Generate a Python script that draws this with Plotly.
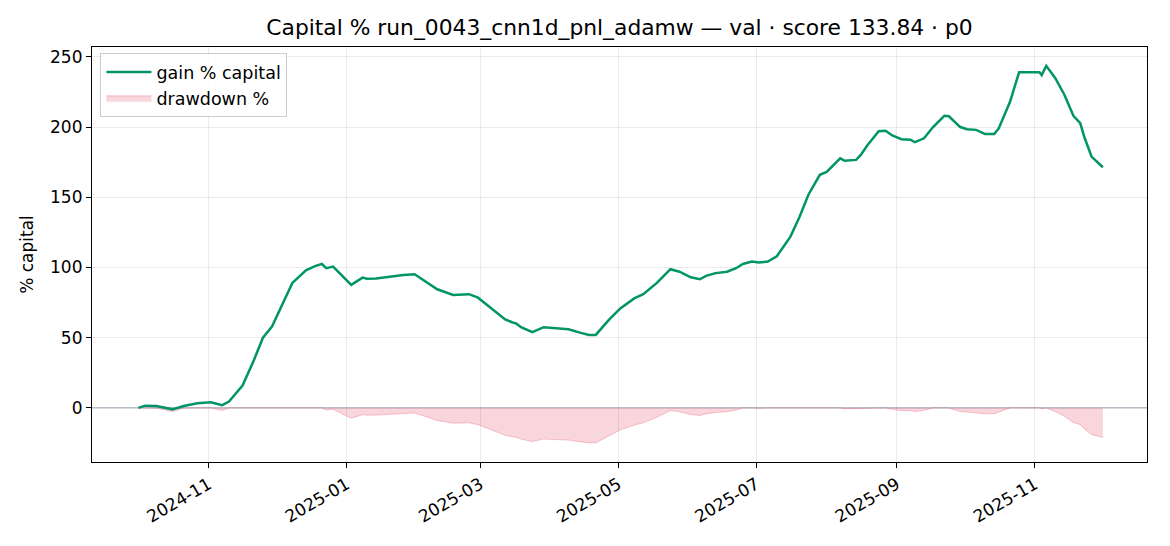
import plotly.graph_objects as go

# values
dates = [
    "2024-10-01", "2024-10-04", "2024-10-09", "2024-10-16", "2024-10-21", "2024-10-27",
    "2024-11-02", "2024-11-07", "2024-11-10", "2024-11-16", "2024-11-21", "2024-11-25",
    "2024-11-29", "2024-12-03", "2024-12-08", "2024-12-14", "2024-12-18", "2024-12-21",
    "2024-12-23", "2024-12-26", "2025-01-02", "2025-01-03", "2025-01-08", "2025-01-10",
    "2025-01-14", "2025-01-20", "2025-01-26", "2025-01-31", "2025-02-04", "2025-02-10",
    "2025-02-17", "2025-02-24", "2025-02-28", "2025-03-05", "2025-03-07", "2025-03-12",
    "2025-03-15", "2025-03-17", "2025-03-19", "2025-03-24", "2025-03-29", "2025-04-04",
    "2025-04-09", "2025-04-14", "2025-04-18", "2025-04-21", "2025-04-27", "2025-05-02",
    "2025-05-08", "2025-05-12", "2025-05-18", "2025-05-24", "2025-05-28", "2025-06-02",
    "2025-06-06", "2025-06-09", "2025-06-13", "2025-06-18", "2025-06-22", "2025-06-25",
    "2025-06-29", "2025-07-02", "2025-07-06", "2025-07-10", "2025-07-16", "2025-07-20",
    "2025-07-24", "2025-07-29", "2025-08-01", "2025-08-07", "2025-08-09", "2025-08-14",
    "2025-08-16", "2025-08-19", "2025-08-24", "2025-08-27", "2025-08-30", "2025-09-03",
    "2025-09-07", "2025-09-09", "2025-09-13", "2025-09-17", "2025-09-22", "2025-09-24",
    "2025-09-29", "2025-10-02", "2025-10-06", "2025-10-10", "2025-10-14", "2025-10-16",
    "2025-10-21", "2025-10-25", "2025-11-03", "2025-11-04", "2025-11-06", "2025-11-10",
    "2025-11-14", "2025-11-18", "2025-11-21", "2025-11-23", "2025-11-26", "2025-12-01",
]
gain_pct = [
    0, 1.6, 1.4, -1, 1.4, 3.3,
    4, 2, 4.5, 16, 34, 50,
    58, 72, 89, 98, 101, 102.5,
    99.5, 100.7, 89, 87.6, 92.8, 92,
    92.2, 93.6, 94.7, 95.2, 91, 84.5,
    80.5, 81, 78.5, 72, 70, 63,
    61, 60, 57.5, 54, 57.5, 56.8,
    56, 53.6, 52, 52, 63, 71,
    78, 81, 89, 98.8, 97, 93,
    91.6, 94.2, 96, 97, 99.5, 102.5,
    104.2, 103.5, 104.2, 108, 122, 136,
    152, 166, 168, 177.7, 176, 176.6,
    180, 187, 197, 197.3, 194, 191.3,
    191, 189.2, 192, 200, 208, 207.7,
    200, 198.5, 198, 195, 195, 199,
    218, 239, 239, 237, 243.6, 234.8,
    223, 208, 202.8, 192, 179, 171.4,
]
drawdown_pct = [
    0, 0, -0.2, -2.6, -0.2, 0,
    0, -1.9, 0, 0, 0, 0,
    0, 0, 0, 0, 0, 0,
    -1.5, -0.9, -6.7, -7.4, -4.8, -5.2,
    -5.1, -4.4, -3.9, -3.6, -5.7, -8.9,
    -10.9, -10.6, -11.9, -15, -15.9, -19.5,
    -20.5, -21, -22.2, -23.9, -22.2, -22.5,
    -22.9, -24.1, -24.9, -24.9, -19.5, -15.6,
    -12.2, -10.6, -6.7, -1.8, -2.7, -4.7,
    -5.4, -4.1, -3.2, -2.7, -1.5, 0,
    0, -0.3, 0, 0, 0, 0,
    0, 0, 0, 0, -0.6, -0.4,
    0, 0, 0, 0, -1, -1.9,
    -2, -2.6, -1.7, 0, 0, -0.1,
    -2.5, -3, -3.2, -4.1, -4.1, -2.9,
    0, 0, 0, -0.6, 0, -2.6,
    -6, -10.4, -11.9, -15.1, -18.9, -21,
]

title = "Capital % run_0043_cnn1d_pnl_adamw — val · score 133.84 · p0"
font = dict(family="DejaVu Sans", size=17, color="black")

fig = go.Figure()

fig.add_trace(
    go.Scatter(
        x=dates,
        y=drawdown_pct,
        name="drawdown %",
        mode="lines",
        fill="tozeroy",
        fillcolor="rgba(220,20,60,0.18)",
        line=dict(color="rgba(220,20,60,0.22)", width=1),
        legendrank=2,
    )
)
fig.add_trace(
    go.Scatter(
        x=dates,
        y=gain_pct,
        name="gain % capital",
        mode="lines",
        line=dict(color="#009467", width=2.5),
        legendrank=1,
    )
)

# zero reference line
fig.add_hline(y=0, line=dict(color="rgba(90,100,140,0.55)", width=1), layer="below")

axis_style = dict(
    showline=True,
    linecolor="black",
    linewidth=1.2,
    mirror=True,
    ticks="outside",
    ticklen=5,
    tickcolor="black",
    showgrid=True,
    gridcolor="rgba(0,0,0,0.08)",
    gridwidth=1,
    zeroline=False,
    tickfont=font,
    automargin=False,
)

# the page body adds an 8px offset, so the figure is a bit smaller than the window
fig.update_layout(
    width=1154,
    height=530,
    plot_bgcolor="white",
    paper_bgcolor="white",
    font=font,
    margin=dict(l=84, r=15, t=39, b=76),
    title=dict(
        text=title,
        x=0.5,
        xref="paper",
        xanchor="center",
        y=1,
        yref="paper",
        yanchor="bottom",
        pad=dict(b=12),
        font=dict(family="DejaVu Sans", size=21.8, color="black"),
    ),
    xaxis=dict(
        type="date",
        range=["2024-09-10 12:00", "2025-12-20 12:00"],
        tick0="2024-11-01",
        dtick="M2",
        tickformat="%Y-%m",
        tickangle=-30,
        **axis_style,
    ),
    yaxis=dict(
        range=[-38.5, 257],
        tick0=0,
        dtick=50,
        title=dict(text="% capital", font=font, standoff=12),
        **axis_style,
    ),
    legend=dict(
        x=0.008,
        y=0.985,
        xanchor="left",
        yanchor="top",
        bgcolor="rgba(255,255,255,0.85)",
        bordercolor="rgba(0,0,0,0.2)",
        borderwidth=1,
        font=dict(family="DejaVu Sans", size=17.5, color="black"),
        itemwidth=45,
        tracegroupgap=2,
    ),
    showlegend=True,
)

fig.write_html("out.html")
